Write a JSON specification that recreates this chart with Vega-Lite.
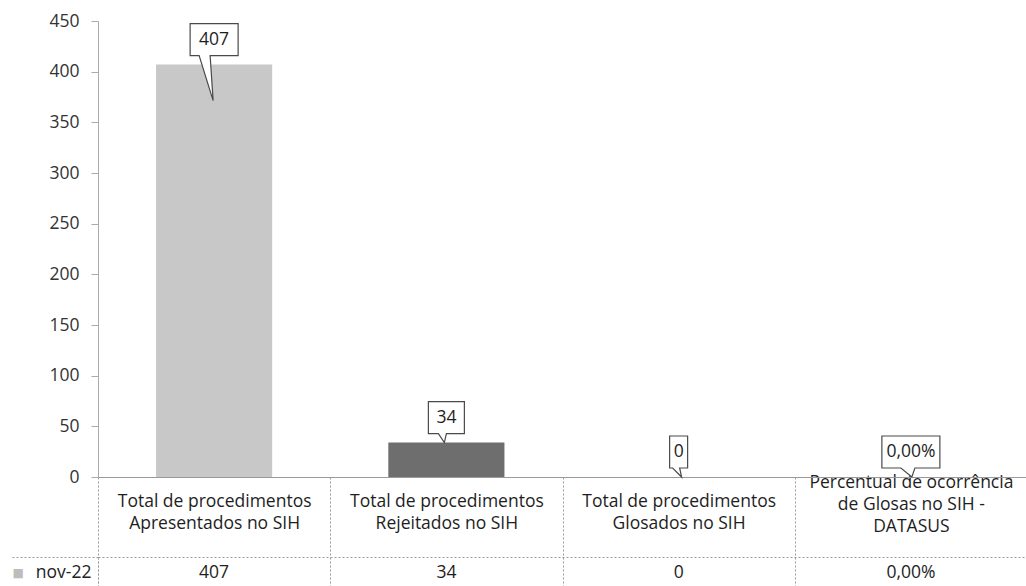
{
  "$schema": "https://vega.github.io/schema/vega-lite/v6.json",
  "padding": {"left": 10, "top": 12, "right": 0, "bottom": 0},
  "autosize": {"type": "pad"},
  "background": "white",
  "config": {
    "font": "Open Sans",
    "view": {"stroke": null},
    "axis": {"labelFont": "Open Sans", "titleFont": "Open Sans"}
  },
  "data": {
    "values": [
      {"categoria": "Total de procedimentos|Apresentados no SIH", "valor": 407, "rotulo": "407", "serie": "nov-22"},
      {"categoria": "Total de procedimentos|Rejeitados no SIH", "valor": 34, "rotulo": "34", "serie": "nov-22"},
      {"categoria": "Total de procedimentos|Glosados no SIH", "valor": 0, "rotulo": "0", "serie": "nov-22"},
      {"categoria": "Percentual de ocorrência|de Glosas no SIH -|DATASUS", "valor": 0, "rotulo": "0,00%", "serie": "nov-22"}
    ]
  },
  "spacing": -11,
  "vconcat": [
    {
      "width": 929,
      "height": 456,
      "encoding": {
        "x": {
          "field": "categoria",
          "type": "nominal",
          "sort": null,
          "scale": {"paddingInner": 0, "paddingOuter": 0},
          "axis": {
            "title": null,
            "orient": "bottom",
            "labelExpr": "split(datum.label, '|')",
            "labelAngle": 0,
            "labelAlign": "center",
            "labelBaseline": "middle",
            "labelPadding": {"condition": {"test": "datum.value == 'Percentual de ocorrência|de Glosas no SIH -|DATASUS'", "value": -74}, "value": -55},
            "labelFontSize": 17.5,
            "labelLineHeight": 22,
            "labelColor": "#1e1e1e",
            "labelLimit": 0,
            "labelOverlap": false,
            "tickBand": "extent",
            "tickSize": 79,
            "tickColor": "#9a9a9a",
            "tickDash": [2, 2],
            "domainColor": "#9a9a9a"
          }
        },
        "y": {
          "field": "valor",
          "type": "quantitative",
          "scale": {"domain": [0, 450]},
          "axis": {
            "title": null,
            "values": [0, 50, 100, 150, 200, 250, 300, 350, 400, 450],
            "grid": false,
            "labelFontSize": 17.5,
            "labelColor": "#333333",
            "labelPadding": 12,
            "tickSize": 7,
            "tickColor": "#aaaaaa",
            "domainColor": "#aaaaaa"
          }
        }
      },
      "layer": [
        {
          "mark": {"type": "bar", "width": {"band": 0.5}},
          "encoding": {
            "color": {
              "field": "categoria",
              "type": "nominal",
              "scale": {
                "domain": [
                  "Total de procedimentos|Apresentados no SIH",
                  "Total de procedimentos|Rejeitados no SIH",
                  "Total de procedimentos|Glosados no SIH",
                  "Percentual de ocorrência|de Glosas no SIH -|DATASUS"
                ],
                "range": ["#c8c8c8", "#6e6e6e", "#c8c8c8", "#c8c8c8"]
              },
              "legend": null
            }
          }
        },
        {
          "mark": {"type": "point", "size": 4, "filled": true, "fill": "white", "stroke": "#4a4a4a", "strokeWidth": 1.2, "opacity": 1},
          "encoding": {
            "shape": {
              "field": "categoria",
              "type": "nominal",
              "scale": {
                "domain": [
                  "Total de procedimentos|Apresentados no SIH",
                  "Total de procedimentos|Rejeitados no SIH",
                  "Total de procedimentos|Glosados no SIH",
                  "Percentual de ocorrência|de Glosas no SIH -|DATASUS"
                ],
                "range": [
                  "M-24,-41H24V-9H-4L-1,36L-15,-9H-24Z",
                  "M-18,-41H18V-9H0L-2,0L-8,-9H-18Z",
                  "M-9,-41H9V-9H1L3,0L-6,-9H-9Z",
                  "M-29,-41H29V-9H4L1,0L-10,-9H-29Z"
                ]
              },
              "legend": null
            }
          }
        },
        {
          "mark": {"type": "text", "dy": -25, "fontSize": 17.5, "color": "#1e1e1e", "baseline": "middle"},
          "encoding": {"text": {"field": "rotulo"}}
        }
      ]
    },
    {
      "width": 929,
      "height": 31,
      "mark": {"type": "text", "fontSize": 17.5, "color": "#1e1e1e", "baseline": "middle"},
      "encoding": {
        "x": {
          "field": "categoria",
          "type": "nominal",
          "sort": null,
          "scale": {"paddingInner": 0, "paddingOuter": 0},
          "axis": {
            "orient": "top",
            "title": null,
            "labels": false,
            "ticks": false,
            "domain": true,
            "domainColor": "#9a9a9a",
            "domainDash": [2, 2],
            "grid": true,
            "gridColor": "#9a9a9a",
            "gridDash": [2, 2],
            "gridOpacity": 1,
            "tickBand": "extent"
          }
        },
        "y": {
          "field": "serie",
          "type": "nominal",
          "scale": {"paddingInner": 0, "paddingOuter": 0},
          "axis": {
            "title": "■",
            "titleColor": "#bdbdbd",
            "titleFont": "DejaVu Sans",
            "titleFontSize": 12,
            "titleFontWeight": "normal",
            "titleAngle": 0,
            "titleAlign": "left",
            "titleBaseline": "middle",
            "titleX": -86,
            "titleY": 15,
            "domain": true,
            "domainColor": "#9a9a9a",
            "domainDash": [2, 2],
            "ticks": true,
            "tickBand": "extent",
            "tickSize": 87,
            "tickColor": "#9a9a9a",
            "tickDash": [2, 2],
            "labelAlign": "right",
            "labelBaseline": "middle",
            "labelPadding": -80,
            "labelFontSize": 17.5,
            "labelColor": "#222222"
          }
        },
        "text": {"field": "rotulo"}
      }
    }
  ]
}
